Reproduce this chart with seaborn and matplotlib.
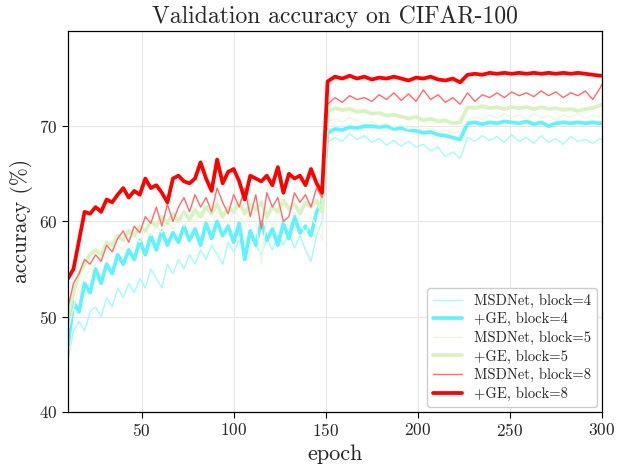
import numpy as np
import pandas as pd
import matplotlib
matplotlib.use("Agg")
import matplotlib.pyplot as plt
import seaborn as sns

epochs = list(range(10, 149, 3)) + list(range(151, 300, 4)) + [300]

# +GE, block=8
ge_b8 = [54.0, 55.0, 58.0, 61.0, 60.8, 61.5, 61.0, 62.3, 62.0, 62.8, 63.5, 62.5, 63.2, 62.8,
         64.5, 63.5, 63.8, 63.0, 62.0, 64.5, 64.8, 64.2, 64.0, 64.5, 66.2, 64.5, 63.2, 66.5,
         64.0, 65.2, 65.5, 64.2, 62.3, 64.8, 64.5, 64.2, 64.8, 63.8, 65.7, 63.0, 65.0, 64.5,
         64.8, 63.8, 65.5, 64.0, 63.0,
         74.7, 75.2, 75.0, 75.3, 75.0, 75.2, 74.9, 75.1, 75.0, 75.2, 75.0, 74.8, 75.1, 75.0,
         75.2, 74.9, 74.8, 75.0, 74.6, 75.4, 75.5, 75.4, 75.6, 75.5, 75.6, 75.5, 75.6, 75.5,
         75.6, 75.5, 75.6, 75.5, 75.6, 75.5, 75.6, 75.5, 75.4, 75.3, 75.3]
# MSDNet, block=8
ms_b8 = [51.0, 53.5, 54.5, 56.0, 55.5, 56.5, 55.8, 57.5, 56.8, 58.2, 59.0, 57.8, 59.5, 58.8,
         60.5, 59.8, 61.5, 59.5, 61.8, 60.0, 61.5, 62.5, 61.0, 62.8, 61.5, 62.5, 61.0, 63.5,
         62.0, 60.8, 62.8, 61.5, 63.5, 60.5, 62.8, 59.2, 63.0, 61.5, 62.5, 60.0, 60.5, 63.0,
         62.0, 62.8, 61.5, 63.5, 62.5,
         72.3, 73.0, 72.5, 73.2, 72.8, 73.0, 72.6, 73.3, 72.8, 73.5, 72.7, 73.4, 72.6, 73.8,
         72.8, 73.3, 72.5, 73.0, 72.3, 73.5, 72.6, 73.3, 73.0, 73.5, 73.0, 73.6, 73.2, 73.5,
         73.1, 73.7, 73.2, 73.6, 73.0, 73.5, 73.2, 73.7, 72.8, 74.0, 74.4]
# +GE, block=5
ge_b5 = [50.0, 52.5, 54.5, 55.5, 56.5, 57.0, 56.5, 57.8, 57.5, 58.5, 58.0, 59.0, 58.5, 59.5,
         59.0, 60.0, 59.5, 60.5, 59.8, 60.8, 60.0, 61.0, 60.2, 61.2, 60.5, 61.5, 60.8, 61.8,
         60.5, 61.5, 61.0, 62.0, 60.8, 61.8, 61.2, 62.0, 60.5, 61.5, 61.0, 62.2, 61.3, 61.8,
         60.8, 62.0, 61.5, 62.2, 61.0,
         71.5, 71.9, 71.7, 71.8, 71.5, 71.6, 71.3, 71.4, 71.1, 71.2, 71.0, 70.8, 71.0, 70.6,
         70.8, 70.5, 70.6, 70.3, 70.4, 72.0, 71.9, 72.1, 71.9, 72.0, 71.8, 72.0, 71.9, 72.0,
         71.8, 72.0, 71.8, 71.9, 71.7, 71.8, 71.6, 71.8, 71.9, 72.2, 72.3]
# MSDNet, block=5
ms_b5 = [48.5, 51.0, 53.0, 54.0, 55.0, 55.5, 56.5, 56.0, 57.0, 57.5, 57.0, 58.0, 58.5, 57.8,
         59.0, 58.5, 59.5, 58.8, 60.0, 59.2, 60.3, 59.5, 60.5, 59.8, 61.0, 60.2, 59.5, 61.0,
         60.3, 59.8, 61.2, 60.5, 59.8, 61.0, 60.0, 55.5, 60.5, 59.5, 61.2, 60.0, 59.5, 61.0,
         60.0, 58.5, 60.5, 59.5, 58.0,
         70.5, 70.8, 70.4, 70.9, 70.6, 70.3, 70.5, 70.1, 70.3, 69.9, 70.1, 69.7, 69.9, 69.6,
         69.8, 69.4, 69.6, 69.3, 69.5, 70.6, 71.0, 70.7, 71.2, 70.8, 71.3, 70.9, 71.2, 70.7,
         71.3, 70.9, 71.1, 70.6, 71.2, 70.9, 71.3, 70.8, 71.2, 71.0, 71.1]
# +GE, block=4
ge_b4 = [47.0, 51.5, 50.5, 53.5, 52.5, 55.0, 53.5, 55.5, 54.5, 56.5, 55.5, 57.0, 56.0, 58.0,
         56.5, 58.5, 57.0, 59.0, 57.5, 58.8, 57.8, 59.5, 58.0, 59.2, 57.5, 59.8, 58.2, 60.0,
         58.5, 59.5, 57.8, 59.8, 56.0, 59.0, 57.5, 60.0, 58.0, 59.2, 57.5, 59.8, 58.2, 60.5,
         58.8, 59.5, 58.5, 61.0, 62.0,
         69.3, 69.7, 69.6, 69.9, 69.8, 70.0, 70.0, 69.9, 70.0, 69.7, 69.8, 69.6, 69.5, 69.3,
         69.4, 69.1, 69.0, 68.8, 68.6, 70.3, 70.4, 70.2, 70.4, 70.3, 70.5, 70.4, 70.3, 70.5,
         70.2, 70.4, 70.0, 70.3, 70.4, 70.3, 70.4, 70.3, 70.4, 70.3, 70.3]
# MSDNet, block=4
ms_b4 = [45.5, 48.5, 49.5, 48.5, 50.5, 51.0, 50.0, 52.0, 51.0, 53.0, 52.0, 53.5, 52.5, 54.0,
         53.0, 55.0, 54.0, 53.0, 55.5, 54.5, 56.0, 55.0, 56.5, 55.5, 57.0, 56.0, 57.5, 56.5,
         55.5, 57.8, 56.8, 58.0, 57.0, 58.5, 57.5, 56.5, 58.2, 57.0, 58.5, 57.5, 58.8, 57.2,
         58.5, 57.0, 55.8, 58.5, 60.0,
         68.3, 68.8, 68.4, 69.2, 68.6, 69.0, 68.3, 68.7, 68.0, 68.5, 67.9, 68.4, 67.8, 68.1,
         67.4, 67.8, 66.8, 67.3, 66.6, 68.8, 68.4, 69.0, 68.5, 68.9, 68.3, 69.1, 68.4, 68.8,
         68.2, 69.0, 68.3, 68.7, 68.1, 68.9, 68.4, 68.6, 68.2, 68.7, 68.6]

labels = ["MSDNet, block=4", "+GE, block=4", "MSDNet, block=5",
          "+GE, block=5", "MSDNet, block=8", "+GE, block=8"]
series = [ms_b4, ge_b4, ms_b5, ge_b5, ms_b8, ge_b8]

sns.set_style("whitegrid")
plt.rcParams["font.family"] = "serif"
plt.rcParams["font.serif"] = ["cmr10"]
plt.rcParams["mathtext.fontset"] = "cm"
plt.rcParams["axes.formatter.use_mathtext"] = True
plt.rcParams["axes.unicode_minus"] = False

colors = ["#a6f9fd", "#63f2fc", "#ecf7df", "#d8f2c2", "#ff6b6b", "#ff0000"]
widths = [1.0, 2.7, 1.0, 2.7, 1.0, 2.7]

df = pd.DataFrame({"epoch": epochs})
for lab, vals in zip(labels, series):
    df[lab] = vals

fig, ax = plt.subplots(figsize=(6.18, 4.69), dpi=100)
fig.subplots_adjust(left=0.110, right=0.974, bottom=0.122, top=0.934)

for lab, col, lw in zip(labels, colors, widths):
    sns.lineplot(data=df, x="epoch", y=lab, color=col, linewidth=lw,
                 label=lab, ax=ax)

ax.set_xlim(10, 300)
ax.set_ylim(40, 80)
ax.set_xticks([50, 100, 150, 200, 250, 300])
ax.set_yticks([40, 50, 60, 70])
ax.grid(True, color="#e6e6e6", linewidth=0.8)
for s in ax.spines.values():
    s.set_color("black")
    s.set_linewidth(0.9)
ax.tick_params(axis="both", which="major", length=4, width=0.8,
               labelsize=12.5, bottom=True, left=True, color="black")

ax.set_title("Validation accuracy on CIFAR-100", fontsize=17)
ax.set_xlabel("epoch", fontsize=16)
ax.set_ylabel("accuracy (%)", fontsize=15.5)

leg = ax.legend(loc="lower right", fontsize=10.5, frameon=True, fancybox=True,
                edgecolor="#cccccc", framealpha=1.0, borderaxespad=0.35,
                handlelength=2.0, labelspacing=0.3)

fig.savefig("out.png", dpi=100)
